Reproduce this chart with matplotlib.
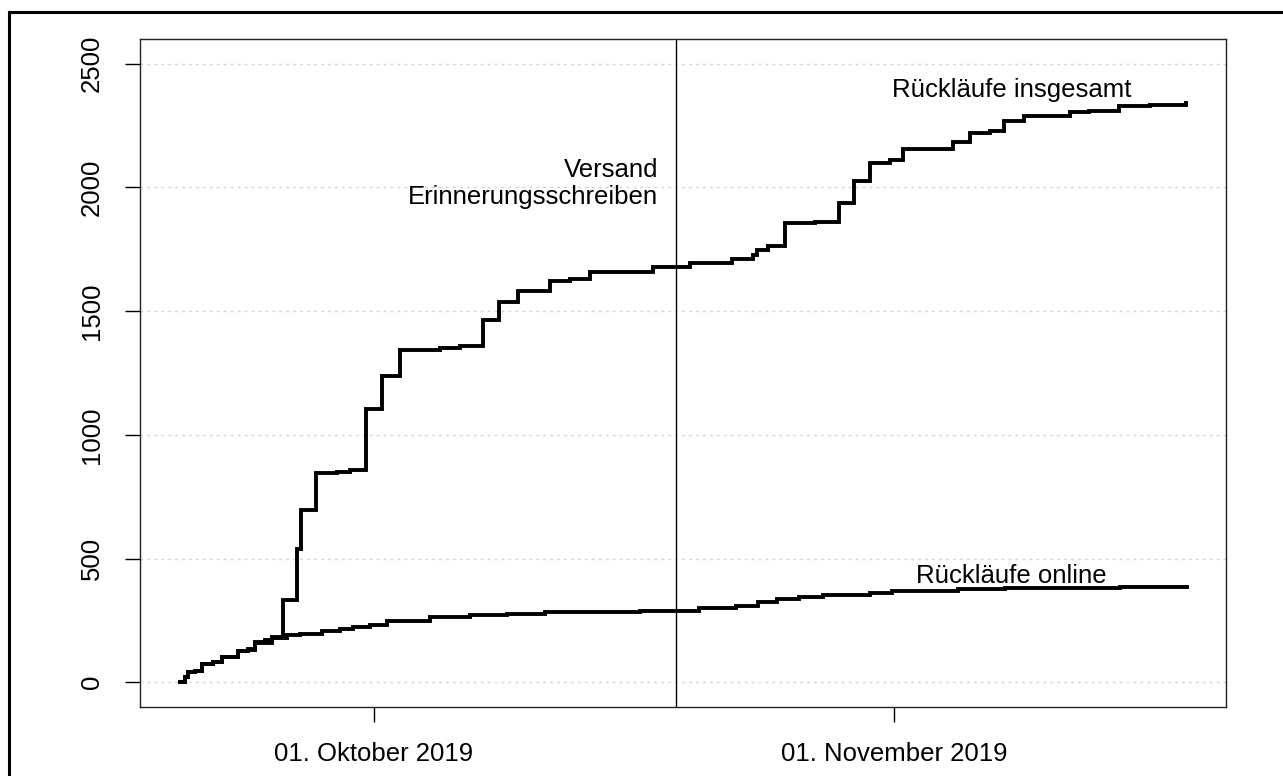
import matplotlib
matplotlib.use("Agg")
import matplotlib.pyplot as plt
from matplotlib.patches import Rectangle

plt.rcParams['font.family'] = ['Liberation Sans', 'DejaVu Sans']

# days relative to 01. Oktober 2019
online_days = [-11.57, -11.27, -11.09, -10.67, -10.26, -9.60, -9.06, -8.11, -7.51, -7.10,
               -6.08, -5.19, -4.41, -3.10, -2.03, -1.25, -0.24, 0.78, 3.34, 5.72,
               7.93, 10.20, 15.86, 19.38, 21.59, 22.90, 24.03, 25.34, 26.77, 29.58,
               30.89, 34.82, 37.63, 44.48, 48.48]
online_vals = [0, 20, 40, 47, 74, 81, 104, 125, 131, 158,
               179, 189, 196, 206, 216, 225, 233, 249, 263, 270,
               276, 283, 290, 299, 310, 323, 337, 346, 353, 361,
               368, 375, 380, 384, 384]

total_days = [-11.57, -11.27, -11.09, -10.67, -10.26, -9.60, -9.06, -8.11, -7.51, -7.10,
              -6.50, -6.08, -5.43, -4.59, -4.35, -3.46, -2.21, -1.43, -0.48, 0.48,
              1.55, 3.94, 5.13, 6.50, 7.45, 8.59, 10.49, 11.69, 12.88, 16.64,
              18.84, 21.35, 22.60, 22.84, 23.49, 24.51, 26.30, 27.73, 28.62, 29.58,
              30.77, 31.54, 34.53, 35.54, 36.73, 37.57, 38.76, 41.50, 42.64, 44.42,
              46.27, 48.42]
total_vals = [0, 20, 40, 47, 74, 81, 104, 125, 135, 162,
              170, 182, 333, 540, 697, 846, 850, 858, 1105, 1237,
              1341, 1350, 1358, 1465, 1536, 1583, 1622, 1630, 1660, 1680,
              1693, 1711, 1725, 1748, 1765, 1855, 1860, 1938, 2025, 2098,
              2111, 2154, 2183, 2221, 2228, 2269, 2288, 2304, 2310, 2328,
              2335, 2342]

reminder_day = 18.0
x_tick_days = [0, 31]
x_tick_labels = ['01. Oktober 2019', '01. November 2019']
y_ticks = [0, 500, 1000, 1500, 2000, 2500]

fig = plt.figure(figsize=(12.83, 7.76), dpi=100)
ax = fig.add_axes([140/1283, 1-707/776, (1226-140)/1283, (707-39)/776])

for yt in y_ticks:
    ax.axhline(yt, color='#d3d3d3', lw=1.0, ls=(0, (2, 3)), zorder=1)

ax.step(total_days, total_vals, where='post', color='black', lw=2.8, zorder=3,
        solid_joinstyle='miter')
ax.step(online_days, online_vals, where='post', color='black', lw=2.8, zorder=3,
        solid_joinstyle='miter')
ax.axvline(reminder_day, color='black', lw=1.0, zorder=2)

fs = 18.5
ax.text(38.0, 2392, 'Rückläufe insgesamt', ha='center', va='center', fontsize=fs)
ax.text(38.0, 431, 'Rückläufe online', ha='center', va='center', fontsize=fs)
ax.text(reminder_day - 1.05, 2016, 'Versand\nErinnerungsschreiben', ha='right',
        va='center', fontsize=fs, linespacing=1.2)

ax.set_xlim(-13.95, 50.80)
ax.set_ylim(-100, 2600)
ax.set_xticks(x_tick_days)
ax.set_xticklabels(x_tick_labels, fontsize=fs)
ax.set_yticks(y_ticks)
ax.set_yticklabels([str(v) for v in y_ticks], fontsize=fs, rotation=90, va='center')
ax.tick_params(axis='both', length=11, width=1.0, direction='out', color='black')
ax.tick_params(axis='x', pad=14)
ax.tick_params(axis='y', pad=15)
for sp in ax.spines.values():
    sp.set_linewidth(1.0)
    sp.set_color('#222222')

fig.patches.append(Rectangle((9/1283, -0.1), 1.2, 1 - 12/776 + 0.1,
                             transform=fig.transFigure, fill=False,
                             edgecolor='black', lw=2.2))

fig.savefig('out.png', dpi=100)
